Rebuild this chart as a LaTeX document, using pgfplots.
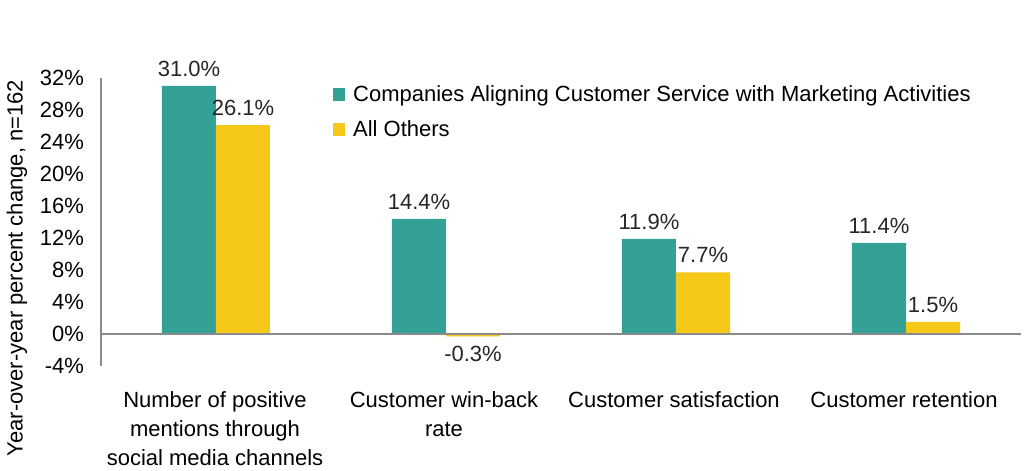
\documentclass[border=0pt]{standalone}
\usepackage{pgfplots}
\pgfplotsset{compat=1.18}
\usepackage{fontspec}
\setmainfont{Liberation Sans}
\definecolor{tealc}{HTML}{34A197}
\definecolor{yellc}{HTML}{F5C819}
\definecolor{axgray}{HTML}{8A8A8A}
\begin{document}
\begin{tikzpicture}
\begin{axis}[
  at={(50.5pt,52.5pt)}, anchor=south west,
  scale only axis, width=460pt, height=144pt,
  ybar=0pt, bar width=27pt,
  xmin=-0.5, xmax=3.5, ymin=-4, ymax=32,
  axis x line=none,
  axis y line=left,
  y axis line style={axgray, line width=0.8pt, -},
  ytick={-4,0,4,8,12,16,20,24,28,32},
  yticklabels={-4\%,0\%,4\%,8\%,12\%,16\%,20\%,24\%,28\%,32\%},
  major tick length=0pt,
  yticklabel style={font=\fontsize{11}{13}\selectfont, xshift=-5pt},
  ylabel={Year-over-year percent change, n=162},
  every axis y label/.style={at={(rel axis cs:0,0.34)}, rotate=90, anchor=center, yshift=42pt, font=\fontsize{11}{13}\selectfont},
  nodes near coords={\pgfmathprintnumber[fixed,fixed zerofill,precision=1,assume math mode=true]{\pgfplotspointmeta}\%},
  every node near coord/.append style={font=\fontsize{11}{13}\selectfont, color=black!85, inner sep=4.5pt},
  legend style={at={(rel axis cs:0.252,0.99)}, anchor=north west, draw=none, fill=none,
    font=\fontsize{11}{13}\selectfont, row sep=4pt, inner sep=0pt,
    nodes={inner xsep=4pt}},
  legend cell align=left,
  legend image code/.code={\fill[#1] (0cm,-0.11cm) rectangle (0.21cm,0.11cm);},
  clip=false,
]
\addplot[fill=tealc, draw=none] coordinates {(0,31.0) (1,14.4) (2,11.9) (3,11.4)};
\addplot[fill=yellc, draw=none] coordinates {(0,26.1) (1,-0.3) (2,7.7) (3,1.5)};
\legend{Companies Aligning Customer Service with Marketing Activities, All Others}
\draw[axgray, line width=0.8pt] (axis cs:-0.5,0) -- (axis cs:3.5,0);
\end{axis}
\begin{scope}[font=\fontsize{11}{14.5}\selectfont]
\path (50.5pt,52.5pt) ++(57pt,-9pt) node[anchor=north, align=center] {Number of positive\\mentions through\\social media channels};
\path (50.5pt,52.5pt) ++(171.5pt,-9pt) node[anchor=north, align=center] {Customer win-back\\rate};
\path (50.5pt,52.5pt) ++(286.5pt,-9pt) node[anchor=north, align=center] {Customer satisfaction};
\path (50.5pt,52.5pt) ++(401.5pt,-9pt) node[anchor=north, align=center] {Customer retention};
\end{scope}
\pgfresetboundingbox
\path[use as bounding box] (0,0) rectangle (512pt,235.5pt);
\end{tikzpicture}
\end{document}
